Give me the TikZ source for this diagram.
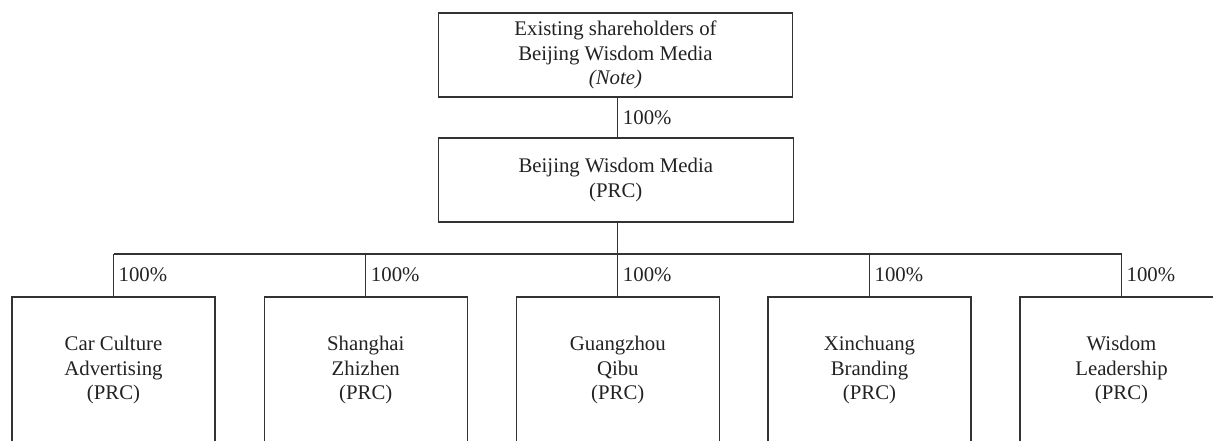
\documentclass[tikz,border=0pt]{standalone}
\usepackage{fontspec}
\setmainfont{Liberation Serif}
\definecolor{ink}{HTML}{222222}
\definecolor{linec}{HTML}{333333}
\begin{document}
\begin{tikzpicture}[x=1pt,y=-1pt,
  box/.style={draw=linec, line width=1.3pt, rectangle, align=center, inner sep=0pt,
    text=ink, font=\fontsize{20.8}{24.6}\selectfont},
  topbox/.style={box, minimum width=354pt, minimum height=84pt},
  subbox/.style={box, minimum width=203pt, minimum height=146pt},
  conn/.style={draw=linec, line width=1.3pt},
  pct/.style={anchor=west, inner xsep=4.5pt, inner ysep=0pt, text=ink, font=\fontsize{20.8}{24.6}\selectfont}
]
\useasboundingbox (0,0) rectangle (1213,440);
\clip (0,0) rectangle (1213,440);
\node[topbox] (top) at (615.5,55) {Existing shareholders of\\Beijing Wisdom Media\\\textit{(Note)}};
\node[topbox, minimum width=355pt] (mid) at (615.8,180) {Beijing Wisdom Media\\(PRC)};
\node[subbox] (b1) at (113.5,370) {Car Culture\\Advertising\\(PRC)};
\node[subbox] (b2) at (365.8,370) {Shanghai\\Zhizhen\\(PRC)};
\node[subbox] (b3) at (617.8,370) {Guangzhou\\Qibu\\(PRC)};
\node[subbox] (b4) at (869.5,370) {Xinchuang\\Branding\\(PRC)};
\node[subbox] (b5) at (1121.5,370) {Wisdom\\Leadership\\(PRC)};
\coordinate (bar) at (0,254);
\draw[conn] (top.south -| b3) -- node[pct, pos=0.5] {100\%} (mid.north -| b3);
\draw[conn] (mid.south -| b3) -- (b3 |- bar);
\draw[conn] (b1 |- bar) -- (b5 |- bar);
\foreach \b in {b1,b2,b3,b4,b5} {
  \draw[conn] (\b |- bar) -- node[pct, pos=0.5] {100\%} (\b.north);
}
\end{tikzpicture}
\end{document}
